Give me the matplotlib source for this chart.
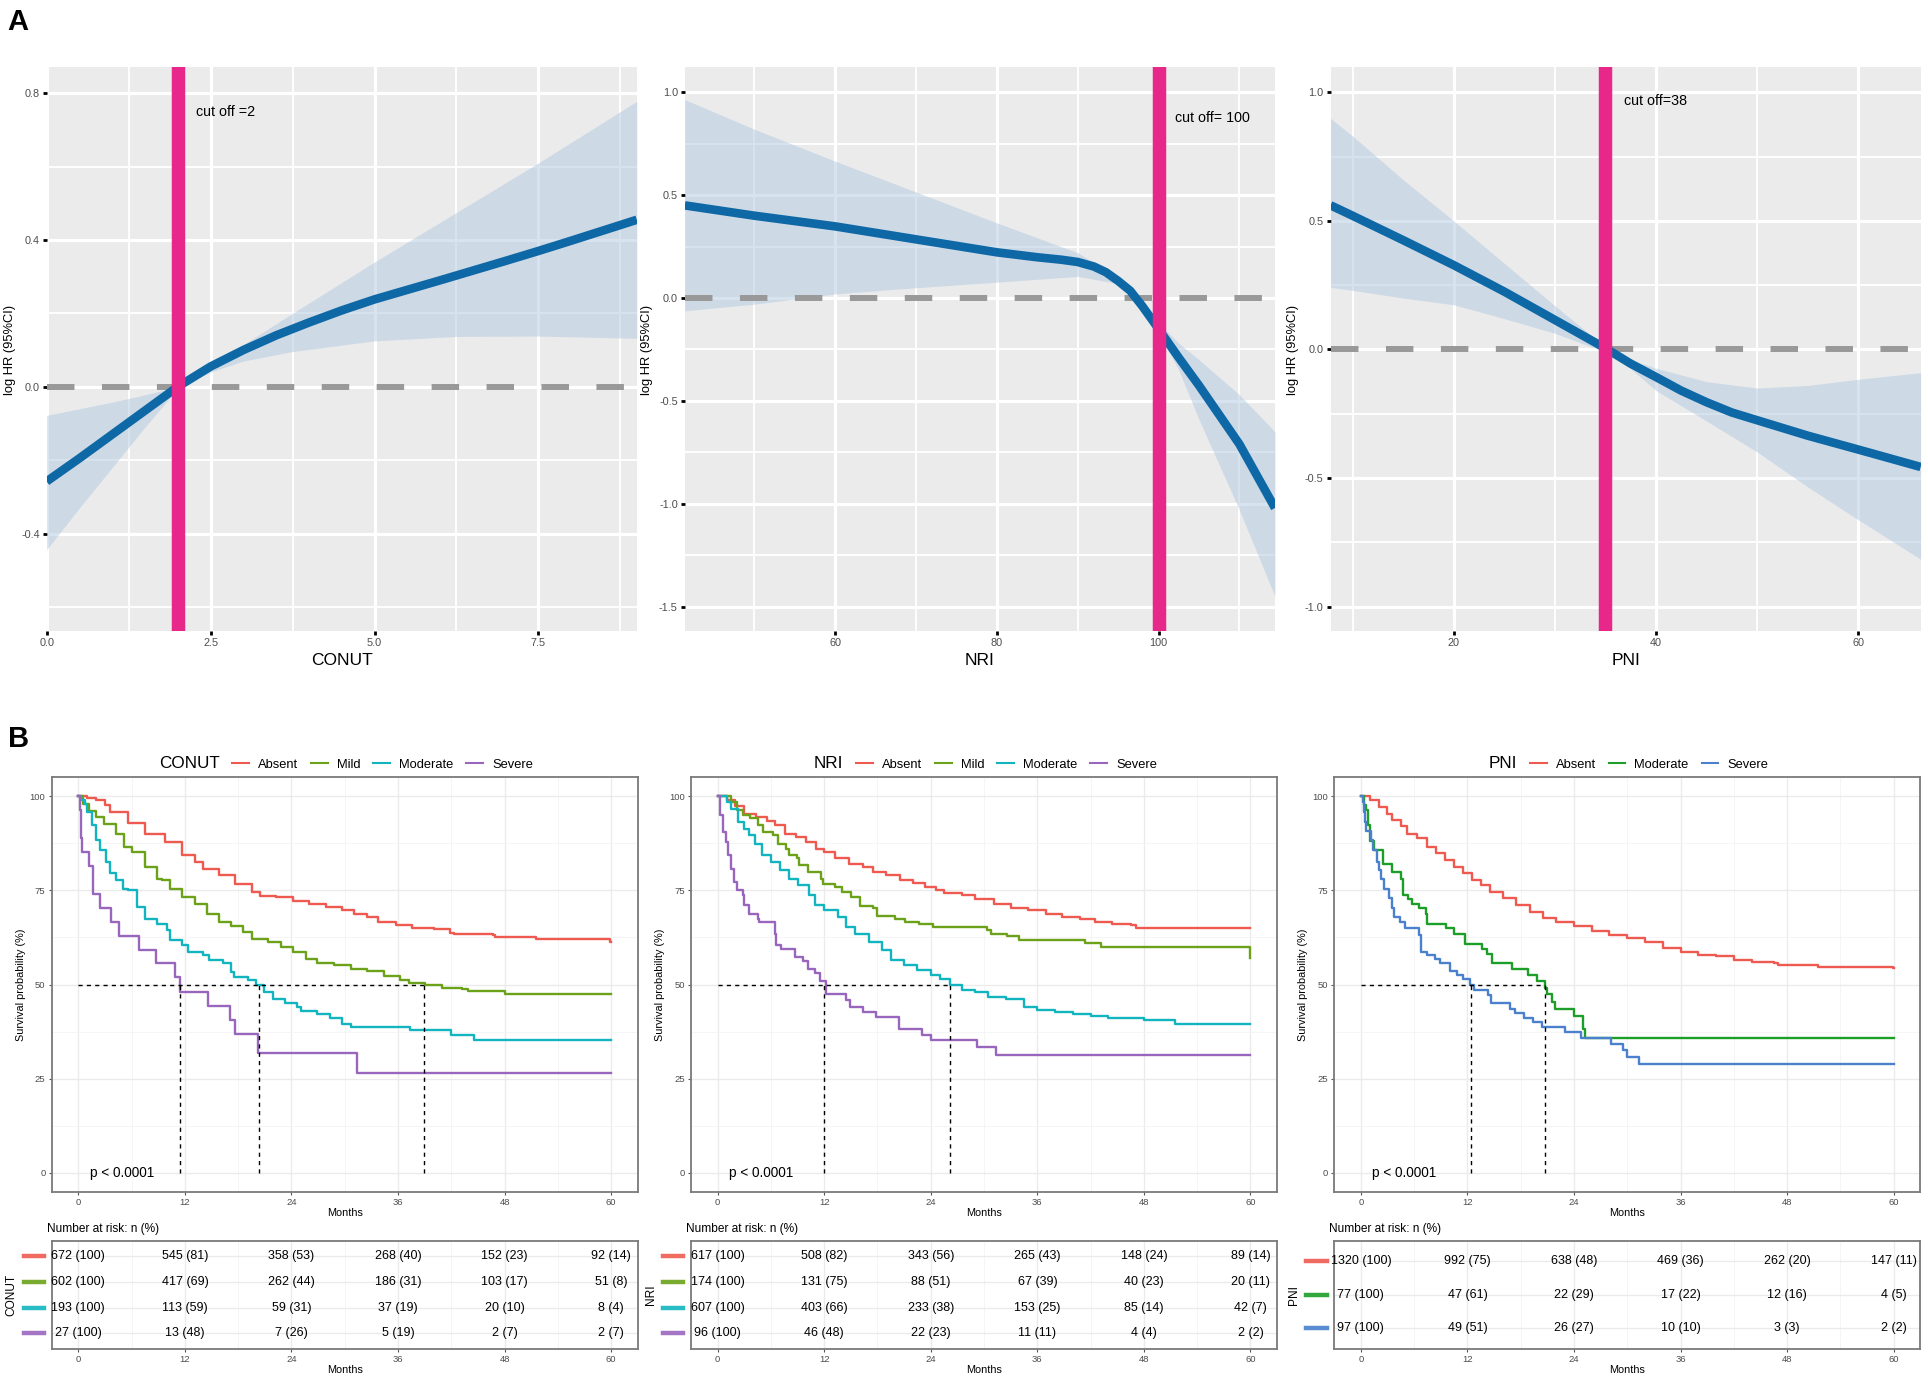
import matplotlib
matplotlib.use("Agg")
import matplotlib.pyplot as plt
from matplotlib.lines import Line2D
from matplotlib.ticker import FixedLocator
import matplotlib.transforms as mtrans

plt.rcParams['font.family'] = ['Liberation Sans', 'DejaVu Sans']

# ---------------- panel A data (restricted cubic spline) ----------------
conut_x = [0.0, 0.5, 1.0, 1.5, 2.0, 2.5, 3.0, 3.5, 4.0, 4.5, 5.0, 6.0, 7.0, 7.5, 8.0, 9.0]
conut_fit = [-0.258, -0.195, -0.13, -0.065, 0.0, 0.055, 0.10, 0.14, 0.175, 0.208, 0.238, 0.29, 0.343,
             0.37, 0.398, 0.455]
conut_ci_x = [0.0, 0.5, 1.0, 1.5, 2.0, 2.5, 3.0, 3.75, 5.0, 6.25, 7.5, 9.0]
conut_hi = [-0.078, -0.06, -0.042, -0.022, 0.0, 0.06, 0.115, 0.20, 0.34, 0.475, 0.61, 0.778]
conut_lo = [-0.444, -0.33, -0.22, -0.11, -0.005, 0.04, 0.07, 0.096, 0.125, 0.137, 0.138, 0.132]

nri_x = [41.4, 50, 60, 70, 80, 85, 88, 90, 92, 93.5, 95, 96.5, 98, 100, 102.5, 105, 110, 114.4]
nri_fit = [0.45, 0.40, 0.348, 0.285, 0.222, 0.198, 0.186, 0.175, 0.153, 0.125, 0.083, 0.035, -0.04,
           -0.15, -0.29, -0.425, -0.71, -1.02]
nri_ci_x = [41.4, 50, 60, 70, 80, 90, 95, 97.5, 100, 102.5, 105, 110, 114.4]
nri_hi = [0.964, 0.82, 0.665, 0.515, 0.365, 0.22, 0.10, 0.0, -0.12, -0.22, -0.30, -0.47, -0.65]
nri_lo = [-0.062, -0.03, 0.02, 0.05, 0.077, 0.105, 0.07, 0.0, -0.17, -0.35, -0.59, -1.03, -1.45]

pni_x = [7.8, 10, 15, 20, 25, 30, 35, 37.5, 40, 42.5, 45, 47.5, 50, 55, 60, 66.2]
pni_fit = [0.561, 0.52, 0.425, 0.328, 0.225, 0.115, 0.005, -0.055, -0.107, -0.16, -0.205, -0.245,
           -0.275, -0.335, -0.389, -0.457]
pni_ci_x = [7.8, 10, 15, 20, 25, 30, 35, 37.5, 40, 45, 50, 55, 60, 66.2]
pni_hi = [0.899, 0.83, 0.66, 0.50, 0.335, 0.17, 0.01, -0.04, -0.073, -0.125, -0.15, -0.14, -0.116, -0.09]
pni_lo = [0.242, 0.23, 0.20, 0.174, 0.12, 0.063, -0.01, -0.075, -0.159, -0.278, -0.398, -0.534, -0.662, -0.816]

cutoffs = [2, 100, 35]
cut_labels = ["cut off =2", "cut off= 100", "cut off=38"]

# ---------------- panel B data (Kaplan-Meier) ----------------
conut_groups = ["Absent", "Mild", "Moderate", "Severe"]
conut_t = [
    [0, 1, 2, 3, 3.6, 5.65, 7.5, 9.8, 11.7, 13.1, 14, 15.8, 17.7, 19.6, 20.5, 22.3, 24.2, 26, 27.9, 29.7,
     31.1, 32.5, 33.7, 35.8, 37.6, 40, 41.8, 42.3, 46.7, 46.9, 51.5, 59.9, 60],
    [0, 0.55, 1.25, 1.95, 2.9, 4.3, 5.2, 6.1, 7.5, 8.9, 9.4, 10.3, 11.7, 13.1, 14.5, 15.8, 17.2, 18.6, 19.6,
     21.4, 22.8, 24.2, 25.6, 26.9, 28.8, 30.7, 32.5, 34.4, 36.2, 37.2, 39, 40.9, 43.2, 43.9, 48, 60],
    [0, 0.3, 0.8, 1, 1.5, 1.95, 2.4, 3.1, 3.6, 4.3, 5, 5.65, 6.6, 7.5, 8.9, 10, 10.3, 11.7, 12.4, 14, 14.7,
     16.3, 17.2, 17.5, 19.1, 20, 20.9, 21.9, 23.3, 24.6, 25.1, 26.9, 28.3, 29.7, 30.7, 37.4, 42, 44.6, 60],
    [0, 0.15, 0.3, 0.4, 1.25, 1.7, 2.4, 3.7, 4.6, 6.8, 8.8, 10.9, 11.4, 14.6, 17.1, 17.7, 20.2, 31.4, 60],
]
conut_s = [
    [100, 99.6, 99.1, 97.6, 95.8, 93.0, 90.1, 87.9, 84.3, 82.6, 80.8, 79.0, 76.8, 74.6, 73.5, 73.2, 72.1, 71.3,
     70.6, 69.7, 68.6, 68.0, 66.5, 65.8, 65.0, 64.7, 63.8, 63.5, 63.1, 62.6, 62.0, 61.3, 61.3],
    [100, 98, 96, 94.5, 92.7, 90, 86.5, 85.2, 81.2, 78.1, 77.7, 75.5, 73.3, 71.5, 68.8, 66.6, 65.5, 64, 62,
     61.3, 60, 58.7, 56.7, 55.8, 55.3, 54.1, 53.5, 52.2, 51.2, 50.5, 50, 49.1, 48.8, 48.2, 47.4, 47.4],
    [100, 99, 98, 95.8, 92.3, 88.3, 85.7, 82.6, 79.5, 77.7, 75.5, 75.0, 70.6, 67.5, 66.2, 64.4, 61.8, 60.4,
     58.7, 57.8, 56.5, 55.6, 53.4, 52.0, 51.2, 50, 48.1, 46.1, 45.2, 44.1, 42.9, 42.3, 41.2, 39.4, 38.8, 37.9,
     36.6, 35.2, 35.2],
    [100, 96.3, 88.9, 85.2, 81.5, 74.1, 70.4, 66.7, 63.0, 59.3, 55.6, 51.9, 48.1, 44.4, 40.7, 37.0, 31.7, 26.4, 26.4],
]
conut_medians = [11.45, 20.35, 38.9]
conut_risk_n = [[672, 545, 358, 268, 152, 92], [602, 417, 262, 186, 103, 51],
                [193, 113, 59, 37, 20, 8], [27, 13, 7, 5, 2, 2]]
conut_risk_pct = [[100, 81, 53, 40, 23, 14], [100, 69, 44, 31, 17, 8],
                  [100, 59, 31, 19, 10, 4], [100, 48, 26, 19, 7, 7]]

nri_groups = ["Absent", "Mild", "Moderate", "Severe"]
nri_t = [
    [0, 1, 2, 3, 4.3, 5.6, 6.5, 7.6, 8.8, 10, 11.1, 12, 13.2, 14.8, 16.4, 17.5, 19, 20.5, 22, 23.4, 24.6,
     25.5, 27.5, 29, 31.1, 33, 35, 37, 38.8, 40.8, 42.5, 44.4, 46.5, 47.1, 60],
    [0, 1, 1.5, 2.2, 2.8, 3.7, 4.5, 5.1, 6.2, 6.8, 7.7, 8, 8.9, 9.2, 10.2, 11.6, 11.9, 13.2, 14, 15, 16,
     17.5, 18, 20, 21.1, 22.7, 24.2, 30.3, 30.8, 32.6, 33.9, 41.4, 43.2, 59.9, 60],
    [0, 1, 1.5, 2.3, 3, 3.5, 4.2, 5, 6, 7, 8, 9, 10.3, 11, 12, 13.5, 14.5, 15.5, 17, 18.5, 19.5, 21, 22.5,
     24, 25, 26.2, 27.5, 29, 30.5, 32.5, 34.5, 36, 38, 40, 42, 44, 48, 51.5, 60],
    [0, 0.3, 0.6, 0.9, 1.2, 1.5, 1.8, 2.2, 2.8, 3.0, 3.5, 4.5, 4.7, 6.5, 6.6, 7.1, 8.7, 9.6, 10.2, 11.0,
     11.5, 12.2, 14.4, 14.9, 16.4, 17.8, 20.4, 23.0, 24.0, 29.2, 31.4, 60],
]
nri_s = [
    [100, 99, 97.4, 95.4, 94.5, 93.4, 92.3, 90.1, 89.2, 87.9, 86.1, 85.2, 83.5, 81.9, 81.2, 79.9, 79.0, 77.7,
     77.0, 75.9, 75.0, 74.2, 73.7, 72.8, 71.5, 70.2, 69.7, 68.8, 68.0, 67.3, 66.6, 66.2, 65.8, 65.0, 65.0],
    [100, 100, 98.5, 96.3, 95, 94.1, 92.3, 90.5, 89.8, 87.4, 86.1, 84.3, 83.5, 81.7, 79.9, 78.1, 76.8, 75.9,
     74.6, 73.3, 70.9, 70.2, 68.2, 67.3, 66.6, 66.2, 65.3, 64.4, 63.5, 62.8, 61.9, 60.9, 60.0, 57.0, 57.0],
    [100, 98.5, 96.5, 93.2, 91.4, 89.6, 87.4, 84.3, 82.6, 80.4, 78.1, 76.4, 73.7, 71.1, 69.7, 68.0, 65.3,
     63.5, 61.3, 59.1, 56.5, 55.1, 53.8, 52.5, 51.4, 50.0, 48.5, 47.9, 46.7, 46.1, 44.1, 43.2, 42.8, 42.3,
     41.6, 41.2, 40.5, 39.6, 39.6],
    [100, 95, 90.5, 87.9, 84.3, 80.8, 77.3, 75.0, 73.7, 71.1, 68.8, 67.5, 66.6, 63.5, 60.4, 59.4, 57.3, 56.2,
     54.0, 53.2, 50.9, 47.6, 45.8, 44.1, 42.7, 41.4, 38.3, 36.7, 35.2, 33.5, 31.4, 31.4],
]
nri_medians = [12.0, 26.2]
nri_risk_n = [[617, 508, 343, 265, 148, 89], [174, 131, 88, 67, 40, 20],
              [607, 403, 233, 153, 85, 42], [96, 46, 22, 11, 4, 2]]
nri_risk_pct = [[100, 82, 56, 43, 24, 14], [100, 75, 51, 39, 23, 11],
                [100, 66, 38, 25, 14, 7], [100, 48, 23, 11, 4, 2]]

pni_groups = ["Absent", "Moderate", "Severe"]
pni_t = [
    [0, 1, 2, 3, 3.5, 4.5, 5.2, 6.3, 7.5, 8.5, 9.5, 10.5, 11.5, 12.5, 13.5, 14.5, 16, 17.5, 19, 20.5, 22,
     24, 26, 28, 30, 32, 34, 36, 38, 40, 42, 44, 46.5, 47, 51.5, 59.9, 60],
    [0, 0.4, 0.6, 0.8, 1.0, 1.5, 2.5, 3.5, 4.5, 4.7, 5.3, 5.8, 6.5, 7.3, 7.5, 9.6, 10.5, 11.7, 13.6, 14.2,
     14.8, 17.0, 18.8, 19.8, 20.7, 21.0, 21.5, 21.9, 24.0, 25.0, 25.3, 60],
    [0, 0.2, 0.4, 0.5, 0.6, 1.1, 1.4, 1.8, 2.0, 2.3, 2.6, 3.2, 3.5, 3.7, 4.4, 5.0, 6.5, 6.8, 7.4, 8.3, 8.9,
     10, 10.8, 11.5, 12.3, 12.8, 14.3, 14.7, 16.8, 17.4, 18.4, 19.4, 20.4, 23.0, 24.8, 28.2, 29.5, 30.0,
     31.3, 60],
]
pni_s = [
    [100, 99, 97.2, 95.4, 93.6, 92.0, 90.1, 88.8, 86.5, 84.8, 83.0, 81.2, 79.5, 77.7, 76.4, 74.6, 73.0,
     71.1, 69.3, 67.7, 66.6, 65.6, 64.2, 63.1, 62.4, 61.2, 59.6, 58.7, 57.8, 57.6, 56.5, 56.0, 55.8, 55.1,
     54.7, 54.3, 54.3],
    [100, 97.6, 96.3, 92.3, 88.1, 85.7, 81.9, 79.9, 77.9, 73.9, 72.8, 71.5, 70.2, 68.6, 66.2, 65.1, 63.5,
     60.8, 59.5, 58.2, 55.6, 54.1, 52.5, 50.9, 49.0, 47.4, 45.4, 43.6, 41.6, 38.3, 35.9, 35.9],
    [100, 98.5, 95.8, 93.2, 90.7, 88.3, 85.7, 82.6, 80.4, 78.1, 75.3, 73.0, 70.2, 68.0, 66.6, 65.0, 63.1,
     58.7, 57.8, 56.7, 55.6, 53.5, 52.5, 51.6, 49.8, 48.5, 47.2, 45.0, 43.6, 42.5, 41.0, 40.1, 38.8, 37.4,
     35.8, 34.2, 32.6, 30.8, 29.0, 29.0],
]
pni_medians = [12.4, 20.7]
pni_risk_n = [[1320, 992, 638, 469, 262, 147], [77, 47, 22, 17, 12, 4], [97, 49, 26, 10, 3, 2]]
pni_risk_pct = [[100, 75, 48, 36, 20, 11], [100, 61, 29, 22, 16, 5], [100, 51, 27, 10, 3, 2]]

risk_times = [0, 12, 24, 36, 48, 60]

col4 = ['#EE5A4F', '#6CA21A', '#12B5BF', '#9966BE']
col3 = ['#EE5A4F', '#1C9E28', '#4A80CC']

fig = plt.figure(figsize=(19.28, 13.83), dpi=100)

# ---------------- A ----------------
def spline_panel(ax, x, fit, cx, lo, hi, cut, lab, lab_xy, xlabel, xlim, ylim,
                 xmaj, xmin, ymaj, ymin, yfmt):
    ax.set_facecolor('#EBEBEB')
    for s in ax.spines.values():
        s.set_visible(False)
    ax.set_xlim(*xlim)
    ax.set_ylim(*ylim)
    ax.xaxis.set_major_locator(FixedLocator(xmaj))
    ax.xaxis.set_minor_locator(FixedLocator(xmin))
    ax.yaxis.set_major_locator(FixedLocator(ymaj))
    ax.yaxis.set_minor_locator(FixedLocator(ymin))
    ax.set_xticklabels([yfmt[0] % v for v in xmaj])
    ax.set_yticklabels([yfmt[1] % v for v in ymaj])
    ax.grid(which='major', color='white', lw=2.3)
    ax.grid(which='minor', color='white', lw=1.3)
    ax.set_axisbelow(True)
    ax.tick_params(which='major', length=3, width=2.0, color='black',
                   labelcolor='#4D4D4D', labelsize=7.8, pad=2)
    ax.tick_params(which='minor', length=0)
    ax.fill_between(cx, lo, hi, color='#B0C8E0', alpha=0.5, lw=0, zorder=2)
    ax.axhline(0, color='#999999', lw=4.3, dashes=(4.6, 4.6), zorder=2.5)
    ax.plot(x, fit, color='#0E68A6', lw=6.2, zorder=3, solid_capstyle='butt', solid_joinstyle='round')
    ax.axvline(cut, color='#E7288A', lw=9.7, zorder=4)
    ax.text(lab_xy[0], lab_xy[1], lab, fontsize=10.3, ha='left', va='center', zorder=5)
    ax.set_xlabel(xlabel, fontsize=12.5, labelpad=3)
    ax.set_ylabel("log HR (95%CI)", fontsize=9.3, labelpad=4)


a_lefts = [0.0242, 0.3552, 0.6901]
axA = [fig.add_axes([l, 0.5434, 0.3061, 0.4078]) for l in a_lefts]

spline_panel(axA[0], conut_x, conut_fit, conut_ci_x, conut_lo, conut_hi, cutoffs[0], cut_labels[0],
             (2.27, 0.75), "CONUT", (0, 9), (-0.667, 0.87),
             [0, 2.5, 5, 7.5], [1.25, 3.75, 6.25, 8.75], [-0.4, 0, 0.4, 0.8], [-0.6, -0.2, 0.2, 0.6],
             ('%.1f', '%.1f'))
spline_panel(axA[1], nri_x, nri_fit, nri_ci_x, nri_lo, nri_hi, cutoffs[1], cut_labels[1],
             (102.0, 0.875), "NRI", (41.4, 114.4), (-1.62, 1.12),
             [60, 80, 100], [50, 70, 90, 110], [-1.5, -1.0, -0.5, 0, 0.5, 1.0],
             [-1.25, -0.75, -0.25, 0.25, 0.75], ('%d', '%.1f'))
spline_panel(axA[2], pni_x, pni_fit, pni_ci_x, pni_lo, pni_hi, cutoffs[2], cut_labels[2],
             (36.8, 0.968), "PNI", (7.8, 66.2), (-1.097, 1.097),
             [20, 40, 60], [10, 30, 50], [-1.0, -0.5, 0, 0.5, 1.0], [-0.75, -0.25, 0.25, 0.75],
             ('%d', '%.1f'))

fig.text(0.004, 0.984, "A", fontsize=21, fontweight='bold', ha='left', va='center')
fig.text(0.004, 0.466, "B", fontsize=21, fontweight='bold', ha='left', va='center')

# ---------------- B ----------------
def km_style(ax):
    ax.set_facecolor('white')
    for s in ax.spines.values():
        s.set_color('#7A7A7A')
        s.set_linewidth(1.3)
    ax.set_xlim(-3, 63)
    ax.xaxis.set_major_locator(FixedLocator(risk_times))
    ax.xaxis.set_minor_locator(FixedLocator([6, 18, 30, 42, 54]))
    ax.grid(which='major', color='#EBEBEB', lw=1.0)
    ax.grid(which='minor', color='#F4F4F4', lw=0.6)
    ax.set_axisbelow(True)
    ax.tick_params(which='major', length=2.5, width=0.8, color='#555555',
                   labelcolor='#4D4D4D', labelsize=6.8, pad=2)
    ax.tick_params(which='minor', length=0)
    ax.set_xlabel("Months", fontsize=7.8, labelpad=1)


def km_panel(ax, title, groups, ts, ss, cols, medians):
    km_style(ax)
    ax.set_ylim(-5, 105)
    ax.yaxis.set_major_locator(FixedLocator([0, 25, 50, 75, 100]))
    ax.yaxis.set_minor_locator(FixedLocator([12.5, 37.5, 62.5, 87.5]))
    handles = [Line2D([], [], color='none')]
    for t, s, c in zip(ts, ss, cols):
        h, = ax.step(t, s, where='post', color=c, lw=1.7, zorder=3)
        handles.append(h)
    ax.plot([0, max(medians)], [50, 50], color='black', lw=1.0, dashes=(3, 3), zorder=4)
    for m in medians:
        ax.plot([m, m], [0, 50], color='black', lw=1.0, dashes=(3, 3), zorder=4)
    ax.text(1.3, 0, "p < 0.0001", fontsize=9.8, ha='left', va='center')
    ax.set_ylabel("Survival probability (%)", fontsize=7.8, labelpad=3)
    leg = ax.legend(handles, [title] + groups, loc='lower center', bbox_to_anchor=(0.48, 1.004),
                    ncol=len(handles), frameon=False, fontsize=9.3, handlelength=1.3,
                    handletextpad=0.7, columnspacing=1.0, borderaxespad=0.2, borderpad=0.2)
    leg.get_texts()[0].set_fontsize(12.3)
    for h in leg.get_lines():
        h.set_linewidth(1.5)


def risk_panel(ax, title, nvals, pvals, cols):
    km_style(ax)
    n = len(nvals)
    ax.set_ylim(n + 0.6, 0.4)
    ax.yaxis.set_major_locator(FixedLocator(list(range(1, n + 1))))
    ax.set_yticklabels([])
    ax.tick_params(axis='y', length=0)
    trans = mtrans.blended_transform_factory(ax.transAxes, ax.transData)
    for i in range(n):
        for j, t in enumerate(risk_times):
            ax.text(t, i + 1, "%d (%d)" % (nvals[i][j], pvals[i][j]), fontsize=9,
                    ha='center', va='center', clip_on=False)
        ax.add_line(Line2D([-0.048, -0.013], [i + 1, i + 1], transform=trans, color=cols[i],
                           lw=3.2, clip_on=False, alpha=0.9))
    ax.text(-0.068, 0.5, title, rotation=90, fontsize=8.6, ha='center', va='center',
            transform=ax.transAxes)
    ax.text(-0.008, 1.11, "Number at risk: n (%)", fontsize=8.6, ha='left', va='center',
            transform=ax.transAxes)


b_lefts = [0.0268, 0.3584, 0.6920]
axB = [fig.add_axes([l, 0.1383, 0.3040, 0.2996]) for l in b_lefts]
axR = [fig.add_axes([l, 0.0248, 0.3040, 0.0780]) for l in b_lefts]

km_panel(axB[0], "CONUT", conut_groups, conut_t, conut_s, col4, conut_medians)
km_panel(axB[1], "NRI", nri_groups, nri_t, nri_s, col4, nri_medians)
km_panel(axB[2], "PNI", pni_groups, pni_t, pni_s, col3, pni_medians)

risk_panel(axR[0], "CONUT", conut_risk_n, conut_risk_pct, col4)
risk_panel(axR[1], "NRI", nri_risk_n, nri_risk_pct, col4)
risk_panel(axR[2], "PNI", pni_risk_n, pni_risk_pct, col3)

fig.savefig("out.png", dpi=100)
